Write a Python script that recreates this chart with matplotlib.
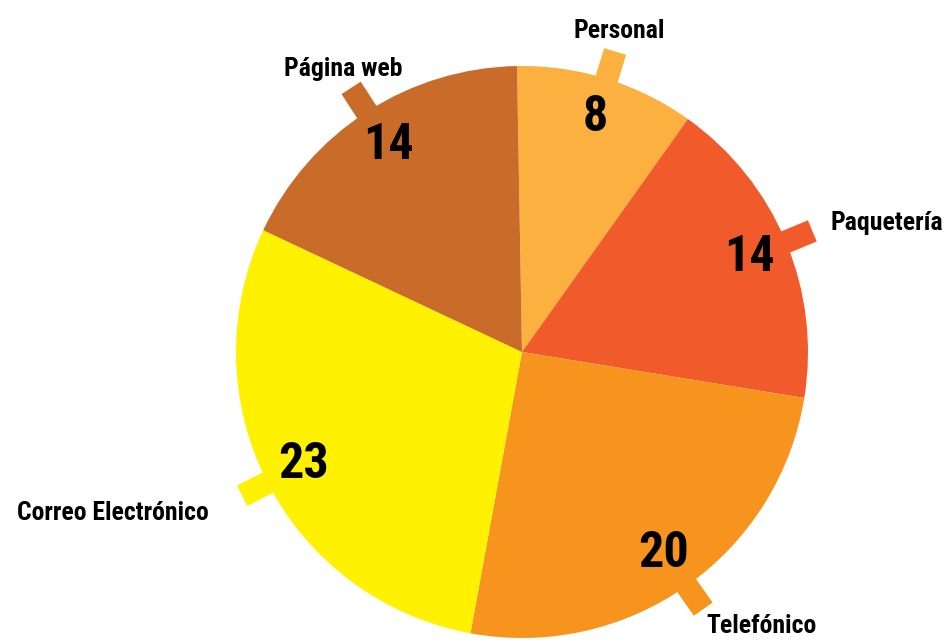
import numpy as np
import matplotlib.pyplot as plt

# Datos del gráfico (orden horario desde arriba)
categorias = ["Personal", "Paquetería", "Telefónico", "Correo Electrónico", "Página web"]
valores = [8, 14, 20, 23, 14]
colores = ["#FBB040", "#F15A2B", "#F7941E", "#FFF100", "#C96C29"]

FUENTE = ["Roboto Condensed", "PT Sans Narrow", "DejaVu Sans"]

fig = plt.figure(figsize=(9.47, 6.43), dpi=100)
ax = fig.add_axes([0, 0, 1, 1])

# centro del pastel en (522, 352) px, radio 286 px
CX, CY, R_PX = 522.0, 352.0, 286.0

wedges, _ = ax.pie(valores, colors=colores, startangle=91, counterclock=False,
                   radius=1.0, wedgeprops=dict(linewidth=0))
ax.set_xlim(-CX / R_PX, (947 - CX) / R_PX)
ax.set_ylim(-(643 - CY) / R_PX, CY / R_PX)
ax.set_aspect("equal")
ax.axis("off")

for w, cat, val, col in zip(wedges, categorias, valores, colores):
    ang = np.deg2rad((w.theta1 + w.theta2) / 2)
    dx, dy = np.cos(ang), np.sin(ang)

    # marca pequeña en el borde del sector
    ax.plot([0.95 * dx, 1.1 * dx], [0.95 * dy, 1.1 * dy], color=col,
            linewidth=16.5, solid_capstyle="butt", zorder=0)

    # valor dentro del sector
    ax.text(0.86 * dx, 0.86 * dy, str(val), ha="center", va="center",
            fontsize=36, fontweight="bold", family=FUENTE, color="black")

    # etiqueta de la categoría
    if dy > 0.6:
        d, ha, va = 1.15, "center", "baseline"
    elif dy < -0.6:
        d, ha, va = 1.12, ("left" if dx > 0 else "right"), "top"
    elif dx > 0:
        d, ha, va = 1.17, "left", "center"
    else:
        d, ha, va = 1.23, "right", "center"
    ax.text(d * dx, d * dy, cat, ha=ha, va=va, fontsize=18.5,
            fontweight="bold", family=FUENTE, color="black")

fig.savefig("out.png", dpi=100)
